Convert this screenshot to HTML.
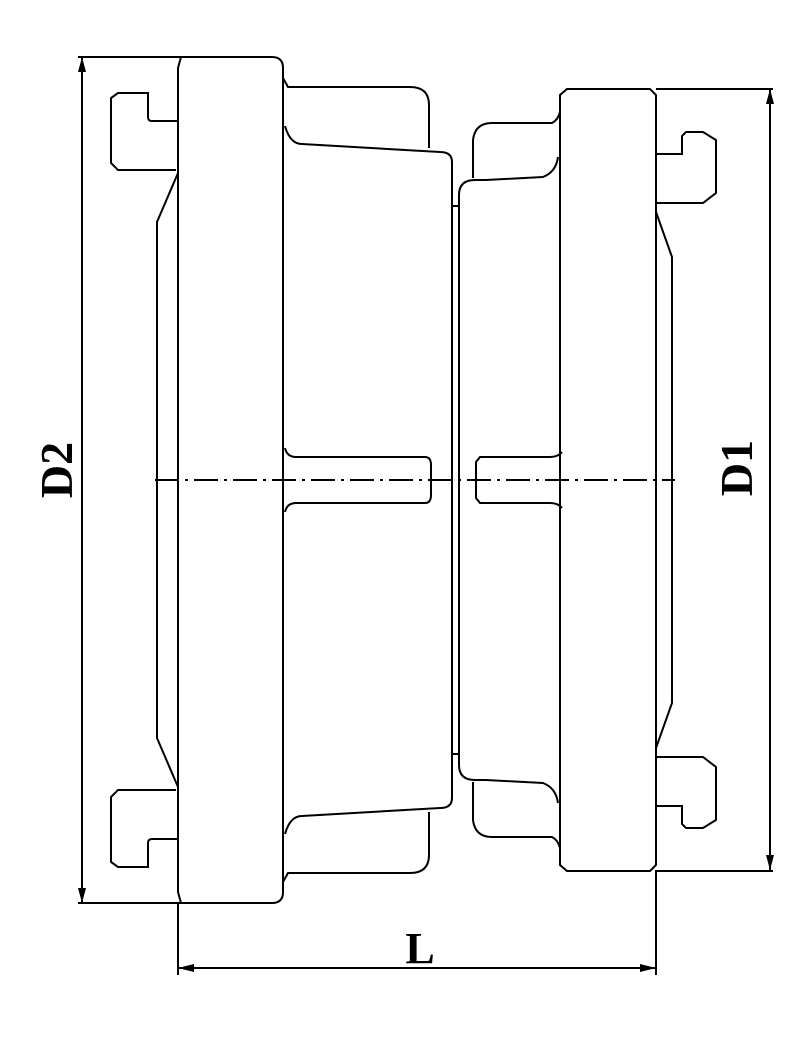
<!DOCTYPE html>
<html><head><meta charset="utf-8"><style>
html,body{margin:0;padding:0;background:#fff;}
svg{display:block;}
text{font-family:"Liberation Serif",serif;font-weight:bold;fill:#000;}
</style></head><body>
<svg width="800" height="1040" viewBox="0 0 800 1040" xmlns="http://www.w3.org/2000/svg">
<defs>
<g id="half" fill="none" stroke="#000" stroke-width="2">
  <!-- left flange -->
  <path d="M178,480 V68 L181,57 H272 Q283,57 283,68 V480"/>
  <path d="M283,78 L288,87 H410 Q429,87 429,105 V148"/>
  <path d="M285,126 Q290,144 302,144 L440,152 Q452,152 452,162 V480"/>
  <path d="M452,206 H459"/>
  <path d="M285,448 Q287,457 296,457 H425 Q431,457 431,465 V480"/>
  <path d="M178,121 H152 Q148,121 148,117 V93 H118 L111,98 V163 L118,170 H176"/>
  <path d="M178,173 L157,222 V480"/>
  <!-- right flange -->
  <path d="M560,480 V95 L567,89 H650 L656,95 V480"/>
  <path d="M459,480 V195 Q459,180 475,180 H486 L543,177 Q556,172 558,157"/>
  <path d="M473,178 V140 Q475,123 492,123 H552 Q558,120 560,112"/>
  <path d="M562,452 Q558,457 550,457 H480 L476,462 V480"/>
  <path d="M656,154 H682 V136 L686,132 H703 L716,140 V193 L703,203 H656"/>
  <path d="M656,212 L672,257 V480"/>
  <!-- dims -->
  <path d="M78,57 H272"/>
  <path d="M656,89 H773"/>
</g>
</defs>
<use href="#half"/>
<use href="#half" transform="translate(0,960) scale(1,-1)"/>
<g fill="none" stroke="#000" stroke-width="2">
  <path d="M155,480 H675" stroke-dasharray="24 6 3 6"/>
  <path d="M82,57 V903"/>
  <path d="M770,89 V870"/>
  <path d="M178,903 V975"/>
  <path d="M656,870 V975"/>
  <path d="M178,968 H656"/>
</g>
<g fill="#000">
  <path d="M82,57 L78,72 H86 Z"/>
  <path d="M82,903 L78,888 H86 Z"/>
  <path d="M770,89 L766,104 H774 Z"/>
  <path d="M770,870 L766,855 H774 Z"/>
  <path d="M178,968 L194,964 V972 Z"/>
  <path d="M656,968 L640,964 V972 Z"/>
</g>
<text x="420" y="963" font-size="44" text-anchor="middle">L</text>
<text transform="translate(72,470) rotate(-90)" font-size="46" text-anchor="middle">D2</text>
<text transform="translate(752,468) rotate(-90)" font-size="46" text-anchor="middle">D1</text>
</svg>
</body></html>
